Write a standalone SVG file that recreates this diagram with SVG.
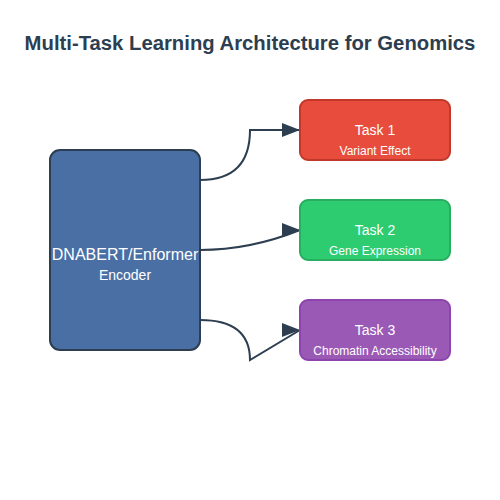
<svg xmlns="http://www.w3.org/2000/svg" width="500" height="500" viewBox="0 0 500 500">
<style>
text{font-family:"Liberation Sans",Arial,sans-serif;text-anchor:middle;fill:#fff}
.title{font-size:20.3px;font-weight:bold;fill:#2c3e50}
.big{font-size:16px}
.lbl{font-size:14px}
.sub{font-size:12px}
.box{stroke-width:2}
.conn{fill:none;stroke:#2c3e50;stroke-width:2}
</style>
<defs>
<marker id="arrow" markerUnits="userSpaceOnUse" markerWidth="18" markerHeight="14" refX="18" refY="7" orient="0">
<polygon points="0,0 18,7 0,14" fill="#2c3e50"/>
</marker>
</defs>
<rect width="500" height="500" fill="#fff"/>
<text class="title" x="250" y="50">Multi-Task Learning Architecture for Genomics</text>
<g id="connectors">
<path class="conn" d="M200,180 Q250,180 250,130 L300,130" marker-end="url(#arrow)"/>
<path class="conn" d="M200,250 Q250,250 300,230" marker-end="url(#arrow)"/>
<path class="conn" d="M200,320 Q250,320 250,360 L300,330" marker-end="url(#arrow)"/>
</g>
<g id="encoder">
<rect class="box" x="50" y="150" width="150" height="200" rx="10" fill="#4a6fa5" stroke="#2c3e50"/>
<text class="big" x="125" y="260">DNABERT/Enformer</text>
<text class="lbl" x="125" y="280">Encoder</text>
</g>
<g id="task1">
<rect class="box" x="300" y="100" width="150" height="60" rx="8" fill="#e74c3c" stroke="#c0392b"/>
<text class="lbl" x="375" y="135">Task 1</text>
<text class="sub" x="375" y="155">Variant Effect</text>
</g>
<g id="task2">
<rect class="box" x="300" y="200" width="150" height="60" rx="8" fill="#2ecc71" stroke="#27ae60"/>
<text class="lbl" x="375" y="235">Task 2</text>
<text class="sub" x="375" y="255">Gene Expression</text>
</g>
<g id="task3">
<rect class="box" x="300" y="300" width="150" height="60" rx="8" fill="#9b59b6" stroke="#8e44ad"/>
<text class="lbl" x="375" y="335">Task 3</text>
<text class="sub" x="375" y="355">Chromatin Accessibility</text>
</g>
</svg>
